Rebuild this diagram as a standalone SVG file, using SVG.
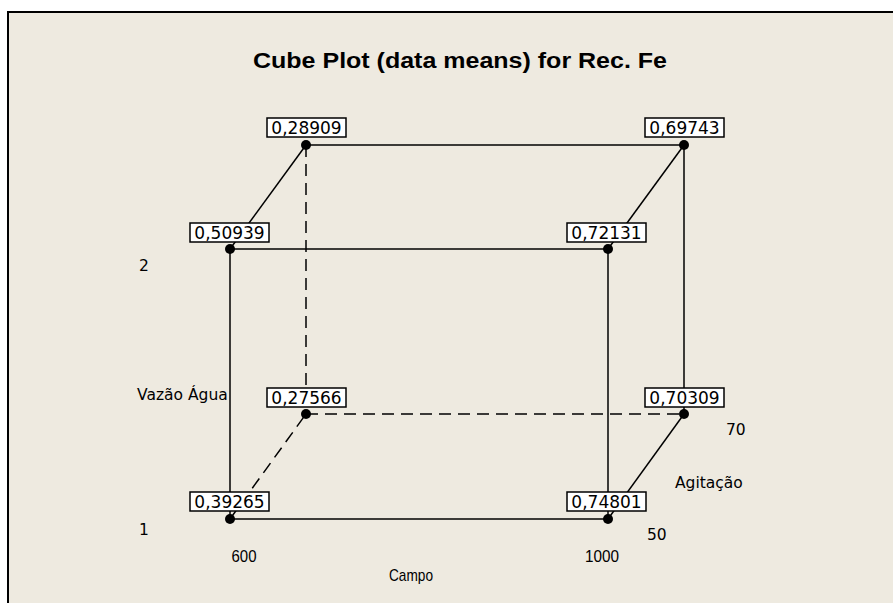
<svg xmlns="http://www.w3.org/2000/svg" width="893" height="603" viewBox="0 0 893 603">
<style>
.edge{stroke:#000;stroke-width:1.5;fill:none}
.dash{stroke-dasharray:12,7}
.box{fill:#fff;stroke:#000;stroke-width:1.5}
.val{font-family:"DejaVu Sans",sans-serif;font-size:17px;fill:#000;text-anchor:middle}
.ax{font-family:"DejaVu Sans",sans-serif;font-size:15.5px;fill:#000}
.axn{font-family:"Liberation Sans",sans-serif;font-size:17px;fill:#000;text-anchor:middle}
.title{font-family:"Liberation Sans",sans-serif;font-weight:bold;font-size:22px;fill:#000;text-anchor:middle}
</style>
<rect x="0" y="0" width="893" height="603" fill="#fff"/>
<rect x="8" y="12" width="885" height="591" fill="#EEEAE0"/>
<path d="M8 603 V12 H893" stroke="#000" stroke-width="2" fill="none"/>
<text class="title" x="460" y="68" textLength="414" lengthAdjust="spacingAndGlyphs">Cube Plot (data means) for Rec. Fe</text>
<g id="connectors">
<path class="edge" d="M230 519 H608"/>
<path class="edge" d="M230 249 H608"/>
<path class="edge" d="M306 145 H684"/>
<path class="edge" d="M230 249 V519"/>
<path class="edge" d="M608 249 V519"/>
<path class="edge" d="M684 145 V414"/>
<path class="edge" d="M230 249 L306 145"/>
<path class="edge" d="M608 249 L684 145"/>
<path class="edge" d="M608 519 L684 414"/>
<path class="edge dash" d="M306 145 V414"/>
<path class="edge dash" d="M306 414 H684"/>
<path class="edge dash" d="M230 519 L306 414"/>
</g>
<g id="n1"><circle cx="230" cy="519" r="5"/><rect class="box" x="190" y="492" width="79" height="19"/><text class="val" x="229.5" y="508">0,39265</text></g>
<g id="n2"><circle cx="608" cy="519" r="5"/><rect class="box" x="567" y="492" width="79" height="19"/><text class="val" x="606.5" y="508">0,74801</text></g>
<g id="n3"><circle cx="230" cy="249" r="5"/><rect class="box" x="190" y="223" width="79" height="19"/><text class="val" x="229.5" y="239">0,50939</text></g>
<g id="n4"><circle cx="608" cy="249" r="5"/><rect class="box" x="567" y="223" width="79" height="19"/><text class="val" x="606.5" y="239">0,72131</text></g>
<g id="n5"><circle cx="306" cy="145" r="5"/><rect class="box" x="267" y="118" width="79" height="19"/><text class="val" x="306.5" y="134">0,28909</text></g>
<g id="n6"><circle cx="684" cy="145" r="5"/><rect class="box" x="645" y="118" width="79" height="19"/><text class="val" x="684.5" y="134">0,69743</text></g>
<g id="n7"><circle cx="306" cy="414" r="5"/><rect class="box" x="267" y="388" width="79" height="19"/><text class="val" x="306.5" y="404">0,27566</text></g>
<g id="n8"><circle cx="684" cy="414" r="5"/><rect class="box" x="645" y="388" width="79" height="19"/><text class="val" x="684.5" y="404">0,70309</text></g>
<g id="labels">
<text class="ax" x="139" y="271">2</text>
<text class="ax" x="139" y="535">1</text>
<text class="ax" x="137" y="400">Vazão Água</text>
<text class="ax" x="726" y="435">70</text>
<text class="ax" x="647" y="540">50</text>
<text class="ax" x="675" y="488">Agitação</text>
<text class="axn" x="244" y="562" textLength="25" lengthAdjust="spacingAndGlyphs">600</text>
<text class="axn" x="602" y="562" textLength="34" lengthAdjust="spacingAndGlyphs">1000</text>
<text class="axn" x="411" y="581" textLength="44" lengthAdjust="spacingAndGlyphs">Campo</text>
</g>
</svg>
